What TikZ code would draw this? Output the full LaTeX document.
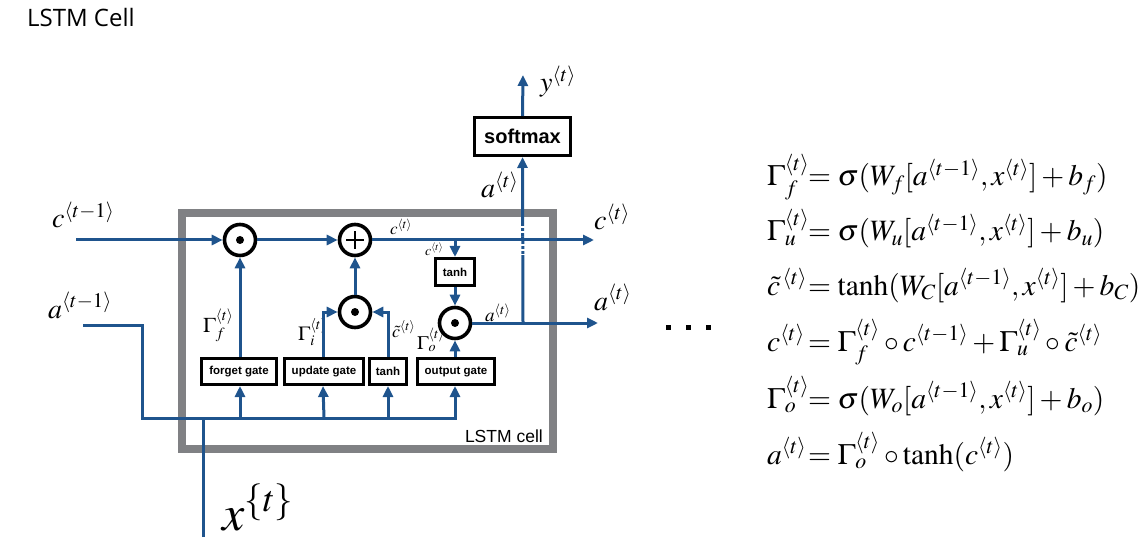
\documentclass[tikz,border=0pt]{standalone}
\usepackage{mathptmx}
\usepackage[no-math]{fontspec}
\setmainfont{Liberation Serif}
\newfontfamily\sansf{Liberation Sans}
\newfontfamily\titlef{Open Sans}
\usetikzlibrary{arrows.meta}
\definecolor{lstmblue}{RGB}{31,84,141}
\definecolor{cellgray}{RGB}{128,129,132}
\newcommand\fsz[1]{\fontsize{#1}{#1}\selectfont}
\tikzset{
  conn/.style={draw=lstmblue, line width=3pt, -{Triangle[length=11pt,width=10pt]}},
  wire/.style={draw=lstmblue, line width=3pt},
  opcirc/.style={circle, draw=black, line width=3.6pt, minimum size=31pt, inner sep=0pt},
  gatebox/.style={draw=black, line width=3pt, font=\sansf\bfseries\fsz{11.5}, inner sep=0pt, minimum height=26pt},
  lbl/.style={anchor=base west, inner sep=0pt},
  eqn/.style={anchor=base west, inner sep=0pt, font=\fsz{29.5}},
}
\begin{document}
\begin{tikzpicture}[x=1pt,y=-1pt]
\useasboundingbox (0,0) rectangle (1141,548);
% title
\node[anchor=base west, inner sep=0pt, font=\titlef\fsz{24}] (title) at (27,27) {LSTM Cell};
% cell frame
\draw[cellgray, line width=8pt] (182,213) rectangle (553,449);
\node[anchor=base east, inner sep=0pt, font=\sansf\fsz{17.5}] (celllbl) at (543,442) {LSTM cell};

% operator circles
\node[opcirc] (fmul) at (240,240) {};
\node[opcirc] (plus) at (355,240) {};
\node[opcirc] (umul) at (355,312) {};
\node[opcirc] (omul) at (455,323) {};
\fill (fmul.center) circle (4pt);
\fill (umul.center) circle (4pt);
\fill (omul.center) circle (4pt);
\draw[line width=2.6pt] ([xshift=-9pt]plus.center) -- ([xshift=9pt]plus.center);
\draw[line width=2.6pt] ([yshift=-9pt]plus.center) -- ([yshift=9pt]plus.center);

% boxes
\node[gatebox, minimum width=39pt, minimum height=27pt] (tanhc) at (455,272) {tanh};
\node[gatebox, minimum width=96pt, minimum height=38pt, font=\sansf\bfseries\fsz{20}] (softmax) at (522.5,136.5) {softmax};
\node[gatebox, minimum width=75pt] (forget) at (239,371.5) {forget gate};
\node[gatebox, minimum width=79pt] (update) at (324,371.5) {update gate};
\node[gatebox, minimum width=37pt] (tanhg) at (388,371.5) {tanh};
\node[gatebox, minimum width=77pt] (output) at (456,371.5) {output gate};

% coordinates
\coordinate (cin) at (76,240);
\coordinate (cout) at (594,240);
\coordinate (cbr) at (455,240);
\coordinate (aout) at (598,323);
\coordinate (abr) at (523,323);
\coordinate (yout) at (523,75);
\coordinate (ain) at (83,325);
\coordinate (bus) at (142,418);
\coordinate (busend) at (457,418);
\coordinate (xin) at (203,537);

% labels (drawn before wires)
\node[lbl, font=\fsz{21}] (gf) at (203,332) {$\Gamma_f^{\langle t\rangle}$};
\node[lbl, font=\fsz{20}] (gi) at (298,340) {$\Gamma_i^{\langle t\rangle}$};
\node[lbl, font=\fsz{18}] (ct) at (392,337) {$\tilde{c}^{\langle t\rangle}$};
\node[lbl, font=\fsz{19}] (go) at (417,349) {$\Gamma_o^{\langle t\rangle}$};
\node[lbl, font=\fsz{17}] (csm1) at (390,235) {$c^{\langle t\rangle}$};
\node[lbl, font=\fsz{14}] (csm2) at (425,256) {$c^{\langle t\rangle}$};
\node[lbl, font=\fsz{19}] (asm) at (485,321) {$a^{\langle t\rangle}$};
\node[lbl, font=\fsz{28}] (aup) at (481,198) {$a^{\langle t\rangle}$};
\node[lbl, font=\fsz{28}] (ylbl) at (540,92) {$y^{\langle t\rangle}$};
\node[lbl, font=\fsz{28}] (cprev) at (52,228) {$c^{\langle t-1\rangle}$};
\node[lbl, font=\fsz{28}] (aprev) at (48,318) {$a^{\langle t-1\rangle}$};
\node[lbl, font=\fsz{28}] (cnext) at (594,230) {$c^{\langle t\rangle}$};
\node[lbl, font=\fsz{28}] (anext) at (594,310) {$a^{\langle t\rangle}$};
\node[lbl, font=\fsz{50}] (xlbl) at (222,530) {$x^{\{t\}}$};

% a(t) up to softmax, broken where it passes under c(t)
\draw[conn] (abr) -- (softmax.south);
\draw[white, line width=3.4pt, dash pattern=on 2pt off 3pt] (523,226) -- (523,236);
\draw[white, line width=3.4pt, dash pattern=on 2pt off 3pt] (523,244) -- (523,255);
\draw[conn] (softmax.north) -- (yout);

% wires
\draw[conn] (cin) -- (fmul.west);
\draw[conn] (fmul.east) -- (plus.west);
\draw[conn] (plus.east) -- (cout);
\draw[conn] (cbr) -- (tanhc.north);
\draw[conn] (tanhc.south) -- (omul.north);
\draw[conn] (omul.east) -- (aout);
\draw[conn] (umul.north) -- (plus.south);
\draw[conn] ([xshift=-1pt]update.north) |- (umul.west);
\draw[conn] (tanhg.north) |- (umul.east);
\draw[conn] ([xshift=-1pt]output.north) -- (omul.south);
\draw[conn] (forget.north -| fmul.south) -- (fmul.south);
\draw[wire] (ain) -| (bus) -- (busend);
\draw[wire] (xin) -- (xin |- bus);
\draw[conn] (bus -| fmul.south) -- (forget.south -| fmul.south);
\draw[conn] (bus -| update.south) -- ([xshift=-1pt]update.south);
\draw[conn] (bus -| tanhg.south) -- (tanhg.south);
\draw[conn] ([xshift=-1pt]bus -| output.south) -- ([xshift=-1pt]output.south);

% dots
\fill (665.5,324.5) rectangle ++(5,5);
\fill (685.5,324.5) rectangle ++(5,5);
\fill (705.5,324.5) rectangle ++(5,5);

% equations
\node[eqn] (eq1) at (767,186) {\makebox[41pt][l]{$\Gamma_f^{\langle t\rangle}$}$= \sigma(W_f[a^{\langle t-1\rangle}, x^{\langle t\rangle}] + b_f)$};
\node[eqn] (eq2) at (767,241) {\makebox[41pt][l]{$\Gamma_u^{\langle t\rangle}$}$= \sigma(W_u[a^{\langle t-1\rangle}, x^{\langle t\rangle}] + b_u)$};
\node[eqn] (eq3) at (767,295) {\makebox[41pt][l]{$\tilde{c}^{\,\langle t\rangle}$}$= \tanh(W_C[a^{\langle t-1\rangle}, x^{\langle t\rangle}] + b_C)$};
\node[eqn] (eq4) at (767,351) {\makebox[41pt][l]{$c^{\langle t\rangle}$}$= \Gamma_f^{\langle t\rangle}\circ c^{\langle t-1\rangle} + \Gamma_u^{\langle t\rangle}\circ \tilde{c}^{\langle t\rangle}$};
\node[eqn] (eq5) at (767,408) {\makebox[41pt][l]{$\Gamma_o^{\langle t\rangle}$}$= \sigma(W_o[a^{\langle t-1\rangle}, x^{\langle t\rangle}] + b_o)$};
\node[eqn] (eq6) at (767,464) {\makebox[41pt][l]{$a^{\langle t\rangle}$}$= \Gamma_o^{\langle t\rangle}\circ \tanh(c^{\langle t\rangle})$};
\end{tikzpicture}
\end{document}
